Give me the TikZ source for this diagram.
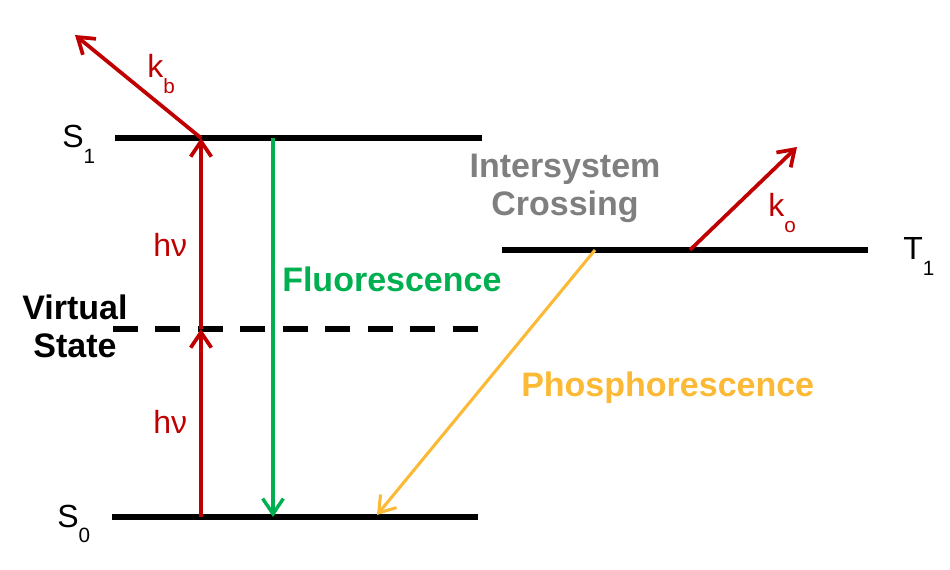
\documentclass[tikz,border=0pt]{standalone}
\usepackage{fontspec}
\setmainfont{Liberation Sans}
\usetikzlibrary{positioning,arrows.meta}
\definecolor{absred}{HTML}{C00000}
\definecolor{fluogreen}{HTML}{00B050}
\definecolor{phosorange}{HTML}{FBB935}
\definecolor{iscgray}{HTML}{7F7F7F}
\newcommand{\lsub}[2]{#1\raisebox{-11.5pt}{\fontsize{15.5}{15.5}\selectfont #2}}

\begin{document}
\begin{tikzpicture}
  [x=0.75pt,y=-0.75pt,
   every node/.style={inner sep=0pt,font=\fontsize{24}{28}\selectfont},
   bold/.style={font=\fontsize{25.5}{28.5}\selectfont\bfseries,align=center},
   level/.style={line width=5.2pt},
   virtual/.style={level,dash pattern=on 18.75pt off 13.1pt},
   tip/.style={-{Straight Barb[length=11.5pt,width=15.5pt,line width=#1]}},
   excite/.style={absred,line width=2.8pt,tip=2.8pt},
   fluo/.style={fluogreen,line width=2.6pt,tip=2.6pt},
   phos/.style={phosorange,line width=2.3pt,tip=2.3pt}]
  \useasboundingbox (0,0) rectangle (950,570);

  % energy levels
  \coordinate (s1l) at (115,138);
  \coordinate (s1r) at (482,138);
  \coordinate (vsl) at (113,329);
  \coordinate (vsr) at (482,329);
  \coordinate (s0l) at (112,517);
  \coordinate (s0r) at (478,517);
  \coordinate (t1l) at (502,250);
  \coordinate (t1r) at (868,250);
  \draw[level] (s1l) -- (s1r);
  \draw[virtual] (vsl) -- (vsr);
  \draw[level] (s0l) -- (s0r);
  \draw[level] (t1l) -- (t1r);

  \node[anchor=base west] (s1) at (62,148) {\lsub{S}{1}};
  \node[anchor=base west] (s0) at (57,527) {\lsub{S}{0}};
  \node[anchor=base west] (t1) at (903,260) {\lsub{T}{1}};
  \node[bold] (vs) at (75,326) {Virtual\\State};

  % transitions
  \coordinate (a0) at (201,517);
  \coordinate (a1) at (201,329);
  \coordinate (a2) at (201,138);
  \coordinate (kb) at (75,35);
  \coordinate (f1) at (273,138);
  \coordinate (f0) at (273,517);
  \coordinate (p1) at (595,250);
  \coordinate (p0) at (377,515);
  \coordinate (o1) at (690,250);
  \coordinate (ko) at (797,147);
  \draw[excite] (a0) -- (a1);
  \draw[excite] (a1) -- (a2);
  \draw[excite] (a2) -- (kb);
  \draw[excite] (o1) -- (ko);
  \draw[fluo] (f1) -- (f0);
  \draw[phos] (p1) -- (p0);

  \node[absred,anchor=base west] (hv1) at (153,257) {hν};
  \node[absred,anchor=base west] (hv2) at (153,433) {hν};
  \node[absred,anchor=base west] (kblbl) at (147,78) {\lsub{k}{b}};
  \node[absred,anchor=base west] (kolbl) at (768,217) {\lsub{k}{o}};
  \node[bold,fluogreen,anchor=base west] (fluolbl) at (282,292) {Fluorescence};
  \node[bold,phosorange,anchor=base west] (phoslbl) at (521,397) {Phosphorescence};
  \node[bold,iscgray] (isc) at (565,188.5) {Intersystem\\Crossing};
\end{tikzpicture}
\end{document}
